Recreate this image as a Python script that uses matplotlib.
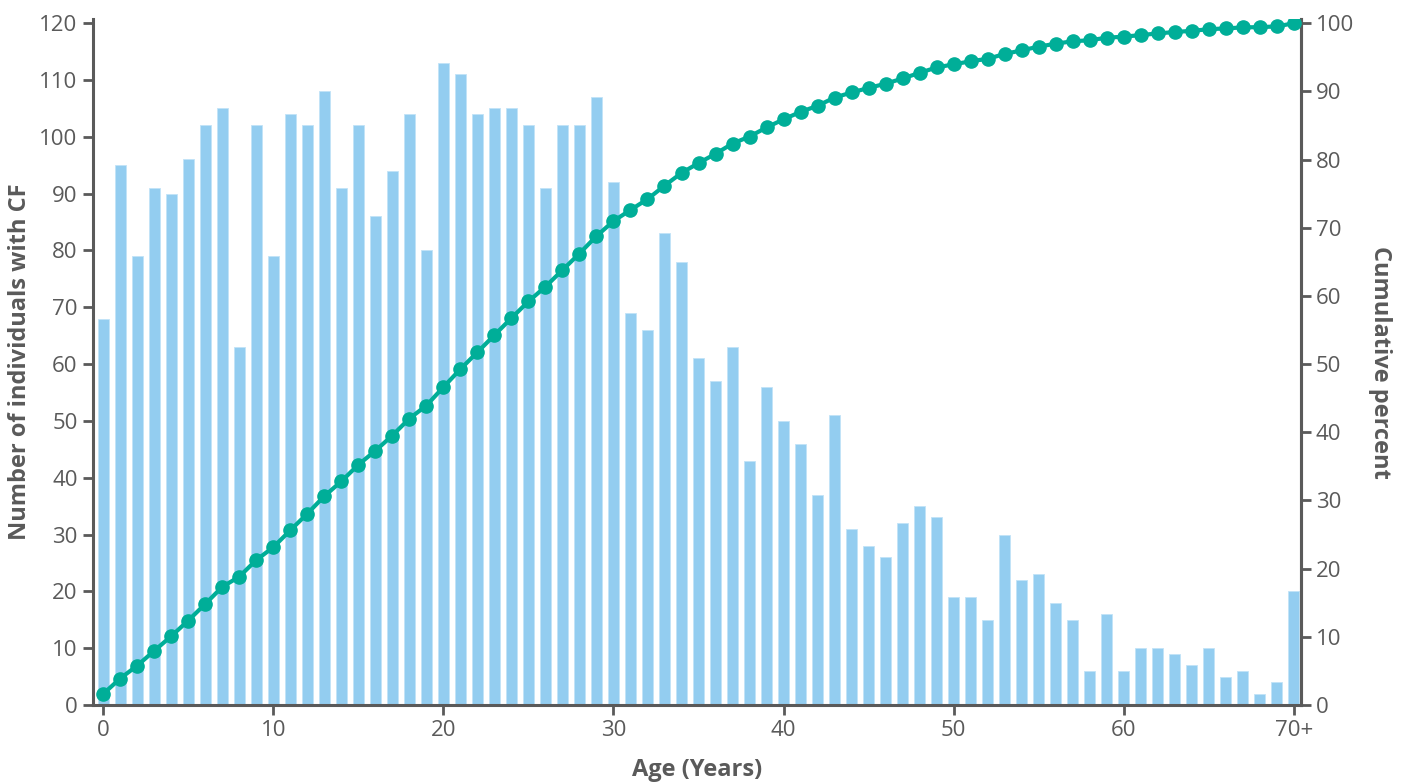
import numpy as np
import matplotlib
matplotlib.use("Agg")
import matplotlib.pyplot as plt

plt.rcParams['font.family'] = ['Open Sans', 'DejaVu Sans']

# Number of people with CF at each age (last bin is 70 and over)
ages = np.arange(0, 71)
counts = [68, 95, 79, 91, 90, 96, 102, 105, 63, 102,
          79, 104, 102, 108, 91, 102, 86, 94, 104, 80,
          113, 111, 104, 105, 105, 102, 91, 102, 102, 107,
          92, 69, 66, 83, 78, 61, 57, 63, 43, 56,
          50, 46, 37, 51, 31, 28, 26, 32, 35, 33,
          19, 19, 15, 30, 22, 23, 18, 15, 6, 16,
          6, 10, 10, 9, 7, 10, 5, 6, 2, 4, 20]
xtick_pos = [0, 10, 20, 30, 40, 50, 60, 70]
xtick_labels = ['0', '10', '20', '30', '40', '50', '60', '70+']

counts = np.array(counts)
cum_pct = np.cumsum(counts) / counts.sum() * 100

grey = '#5a5a5a'
bar_col = '#93cdf0'
line_col = '#00ae98'

fig = plt.figure(figsize=(14.06, 7.83), dpi=100)
ax = fig.add_axes([0.0661, 0.0996, 0.859, 0.876])

ax.bar(ages, counts, width=0.64, color=bar_col, edgecolor='#c2e3f7', linewidth=0.6)
ax.set_xlim(-0.6, 70.4)
ax.set_ylim(0, 120.7)
ax.set_yticks(np.arange(0, 121, 10))
ax.set_xticks(xtick_pos)
ax.set_xticklabels(xtick_labels)

ax2 = ax.twinx()
ax2.plot(ages, cum_pct, '-o', color=line_col, lw=3, markersize=9.5, zorder=3)
ax2.set_ylim(0, 100.6)
ax2.set_yticks(np.arange(0, 101, 10))

for a in (ax, ax2):
    a.spines['top'].set_visible(False)
    for s in a.spines.values():
        s.set_color(grey)
        s.set_linewidth(2.2)
    a.tick_params(colors=grey, labelsize=16, width=2, length=7, pad=4)
ax2.spines['left'].set_visible(False)
ax2.spines['bottom'].set_visible(False)

ax.set_xlabel('Age (Years)', fontsize=17, fontweight='bold', color=grey, labelpad=12)
ax.set_ylabel('Number of individuals with CF', fontsize=17, fontweight='bold', color=grey, labelpad=5)
ax2.set_ylabel('Cumulative percent', fontsize=17, fontweight='bold', color=grey,
               rotation=270, labelpad=27)

fig.savefig('out.png', dpi=100)
